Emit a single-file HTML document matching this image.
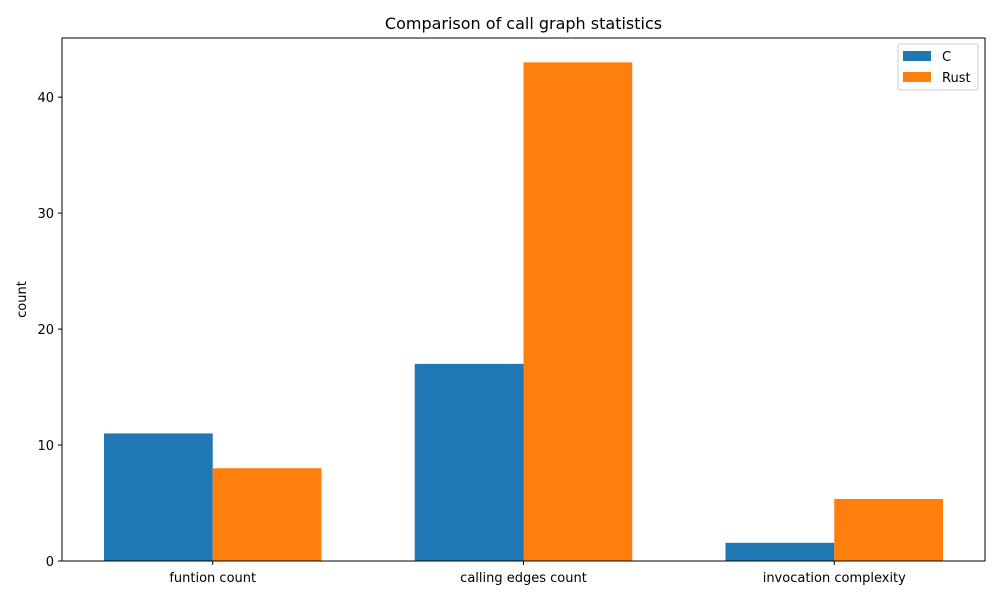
<!DOCTYPE html>
<html><head><meta charset="utf-8"><style>
body{margin:0;background:#fff;font-family:"Liberation Sans","DejaVu Sans",sans-serif;}
svg text{font-family:"DejaVu Sans","Liberation Sans",sans-serif;}
</style></head><body>
<svg id="chart" width="1000" height="600" xmlns="http://www.w3.org/2000/svg">
<rect width="1000" height="600" fill="#fff"/>
<text x="523.5" y="29" font-size="16" text-anchor="middle" fill="#000">Comparison of call graph statistics</text>
<text transform="translate(26,299.5) rotate(-90)" font-size="13" text-anchor="middle">count</text>
<g id="bars"></g><g id="ticks"></g>
<rect x="62" y="38" width="923" height="523" fill="none" stroke="#000" stroke-width="1"/>
<g>
<rect x="898" y="44" width="80" height="46" fill="#fff" stroke="#ccc" rx="2"/>
<rect x="903" y="51" width="28" height="10" fill="#1f77b4"/>
<text x="942" y="61" font-size="13">C</text>
<rect x="903" y="72" width="28" height="10" fill="#ff7f0e"/>
<text x="942" y="82" font-size="13">Rust</text>
</g>
</svg>
<script>
const categories=["funtion count","calling edges count","invocation complexity"];
const cValues=[11,17,1.57];
const rustValues=[8,43,5.35];
const yTicks=[0,10,20,30,40];
const L=62,R=985,T=38,B=561,xmin=-0.485,xmax=2.485,ymin=0,ymax=45.1,bw=0.35;
const xs=v=>L+(v-xmin)/(xmax-xmin)*(R-L);
const ys=v=>B-(v-ymin)/(ymax-ymin)*(B-T);
const NS="http://www.w3.org/2000/svg";
const bars=document.getElementById('bars'),ticks=document.getElementById('ticks');
function mk(p,t,a){const e=document.createElementNS(NS,t);for(const k in a)e.setAttribute(k,a[k]);p.appendChild(e);return e;}
[[cValues,"#1f77b4",-bw/2,"c"],[rustValues,"#ff7f0e",bw/2,"rust"]].forEach(([vals,col,off,nm])=>{
vals.forEach((v,i)=>{const x0=xs(i+off-bw/2),x1=xs(i+off+bw/2);
const r=mk(bars,'rect',{x:x0,y:ys(v),width:x1-x0,height:ys(0)-ys(v),fill:col});

});});
categories.forEach((c,i)=>{const x=xs(i);
mk(ticks,'line',{x1:x,x2:x,y1:B,y2:B+4,stroke:'#000'});
const t=mk(ticks,'text',{x:x,y:B+21,'font-size':13,'text-anchor':'middle'});t.textContent=c;

});
yTicks.forEach(v=>{const y=ys(v);
mk(ticks,'line',{x1:L-4,x2:L,y1:y,y2:y,stroke:'#000'});
const t=mk(ticks,'text',{x:L-8,y:y+5,'font-size':13,'text-anchor':'end'});t.textContent=v;

});
</script>
</body></html>
